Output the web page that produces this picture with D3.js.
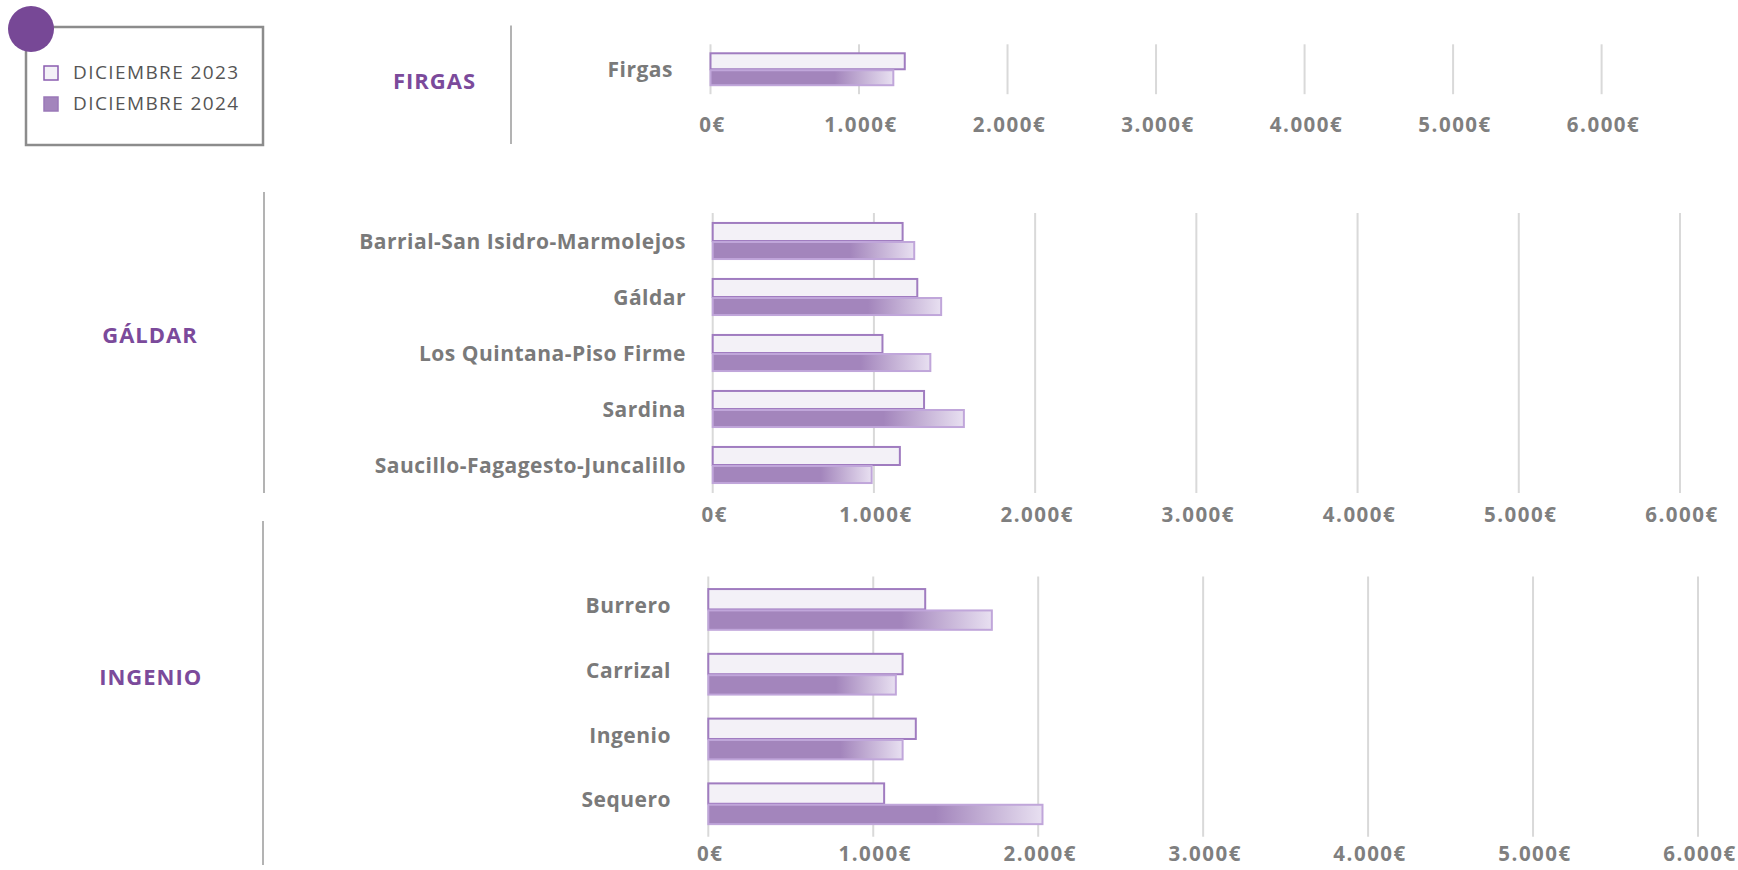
<!DOCTYPE html>
<html><head><meta charset="utf-8">
<script src="https://cdn.jsdelivr.net/npm/d3@7"></script>
<style>
html,body{margin:0;padding:0;background:#fff;}
svg text{font-family:"Open Sans","DejaVu Sans",sans-serif;}
</style></head>
<body><svg id="c" width="1738" height="870"></svg>
<script>
// ---- data ----
const seriesLabels = ["DICIEMBRE 2023", "DICIEMBRE 2024"];
const groupLabels = ["FIRGAS", "GÁLDAR", "INGENIO"];
const tickValues = [0, 1000, 2000, 3000, 4000, 5000, 6000];
const tickLabels = ["0€", "1.000€", "2.000€", "3.000€", "4.000€", "5.000€", "6.000€"];

const firgasCats = ["Firgas"];
const firgas2023 = [1308];
const firgas2024 = [1231];

const galdarCats = ["Barrial-San Isidro-Marmolejos", "Gáldar", "Los Quintana-Piso Firme", "Sardina", "Saucillo-Fagagesto-Juncalillo"];
const galdar2023 = [1178, 1269, 1053, 1311, 1161];
const galdar2024 = [1250, 1417, 1350, 1558, 986];

const ingenioCats = ["Burrero", "Carrizal", "Ingenio", "Sequero"];
const ingenio2023 = [1315, 1178, 1258, 1066];
const ingenio2024 = [1719, 1137, 1178, 2026];

// ---- layout ----
const svg = d3.select("#c");
const defs = svg.append("defs");
const grad = defs.append("linearGradient").attr("id", "g24")
  .attr("x1", "0").attr("x2", "1").attr("y1", "0").attr("y2", "0");
grad.append("stop").attr("offset", "0.68").attr("stop-color", "#a385bc");
grad.append("stop").attr("offset", "1").attr("stop-color", "#e8e0f1");

const panels = [
  {label: groupLabels[0], cats: firgasCats, s23: firgas2023, s24: firgas2024,
   x: [710.5, 1601.6], y: [44.3, 94.2], pi: 0.32, po: 0.16, tickY: 127, labelX: 673, labelDy: 2,
   group: [434.5, 83], sep: [511, 25.5, 144]},
  {label: groupLabels[1], cats: galdarCats, s23: galdar2023, s24: galdar2024,
   x: [712.7, 1680], y: [213, 493], pi: 0.32, po: 0.16, tickY: 517, labelX: 686, labelDy: 2,
   group: [150, 337], sep: [264, 192, 493]},
  {label: groupLabels[2], cats: ingenioCats, s23: ingenio2023, s24: ingenio2024,
   x: [708.3, 1698], y: [576.4, 836.8], pi: 0.34, po: 0.18, tickY: 856, labelX: 671, labelDy: -2,
   group: [150.7, 679], sep: [263, 521, 865]}
];

panels.forEach(p => {
  const g = svg.append("g");
  const x = d3.scaleLinear().domain([0, 6000]).range(p.x);
  const y = d3.scaleBand().domain(p.cats).range(p.y).paddingInner(p.pi).paddingOuter(p.po);
  const sub = d3.scaleBand().domain(seriesLabels).range([0, y.bandwidth()]);

  // separator
  g.append("line").attr("x1", p.sep[0]).attr("x2", p.sep[0]).attr("y1", p.sep[1]).attr("y2", p.sep[2])
    .attr("stroke", "#9a9a9a").attr("stroke-width", 1.5);
  // group label
  g.append("text").attr("x", p.group[0]).attr("y", p.group[1]).attr("text-anchor", "middle")
    .attr("dominant-baseline", "middle").attr("font-size", 22).attr("font-weight", 700)
    .attr("letter-spacing", 1).attr("fill", "#7b4a9b").text(p.label);

  // gridlines
  g.selectAll("line.grid").data(tickValues).enter().append("line").attr("class", "grid")
    .attr("x1", d => x(d)).attr("x2", d => x(d)).attr("y1", p.y[0]).attr("y2", p.y[1])
    .attr("stroke", "#d9d9d9").attr("stroke-width", 2);
  // tick labels
  g.selectAll("text.tick").data(tickValues).enter().append("text").attr("class", "tick")
    .attr("x", d => x(d) + 2).attr("y", p.tickY).attr("text-anchor", "middle")
    .attr("dominant-baseline", "middle").attr("font-size", 20.5).attr("font-weight", 700)
    .attr("letter-spacing", 1.5).attr("fill", "#7f7f7f").text((d, i) => tickLabels[i]);

  // bars
  const rows = p.cats.map((c, i) => ({c, v23: p.s23[i], v24: p.s24[i]}));
  const rg = g.selectAll("g.row").data(rows).enter().append("g").attr("class", "row")
    .attr("transform", d => `translate(0,${y(d.c)})`);
  rg.append("rect").attr("x", x(0)).attr("y", sub(seriesLabels[0]) + 1)
    .attr("width", d => x(d.v23) - x(0)).attr("height", sub.bandwidth() - 1)
    .attr("fill", "#f3f1f7").attr("stroke", "#a07cc0").attr("stroke-width", 2);
  rg.append("rect").attr("x", x(0)).attr("y", sub(seriesLabels[1]) + 1)
    .attr("width", d => x(d.v24) - x(0)).attr("height", sub.bandwidth() - 2)
    .attr("fill", "url(#g24)").attr("stroke", "#c0a6da").attr("stroke-width", 2);
  // category labels
  rg.append("text").attr("x", p.labelX).attr("y", y.bandwidth() / 2 + p.labelDy)
    .attr("text-anchor", "end").attr("dominant-baseline", "middle")
    .attr("font-size", 21).attr("font-weight", 700).attr("letter-spacing", 0.5)
    .attr("fill", "#7a7a7a").text(d => d.c);
});

// legend
const lg = svg.append("g");
lg.append("rect").attr("x", 26).attr("y", 27).attr("width", 237).attr("height", 118)
  .attr("fill", "#fff").attr("stroke", "#8c8c8c").attr("stroke-width", 2.5);
lg.append("circle").attr("cx", 31).attr("cy", 29).attr("r", 23).attr("fill", "#774896");
const li = lg.selectAll("g.li").data(seriesLabels).enter().append("g")
  .attr("transform", (d, i) => `translate(44,${66 + i * 31})`);
li.append("rect").attr("width", 14).attr("height", 14)
  .attr("fill", (d, i) => i === 0 ? "#f3f1f7" : "#a385bc")
  .attr("stroke", (d, i) => i === 0 ? "#8a5cb0" : "#9a78b8").attr("stroke-width", 1.5);
li.append("text").attr("x", 29).attr("y", 8).attr("dominant-baseline", "middle")
  .attr("font-size", 19).attr("font-weight", 500).attr("letter-spacing", 1.4)
  .attr("fill", "#555").text(d => d);
</script></body></html>
